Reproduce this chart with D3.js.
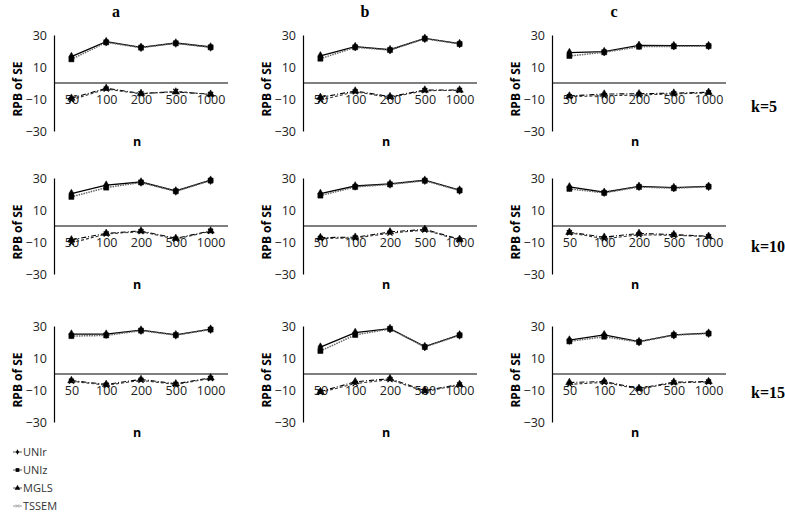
<!DOCTYPE html>
<html><head><meta charset="utf-8">
<script src="https://cdn.jsdelivr.net/npm/d3@7"></script>
<style>body{margin:0;background:#fff}</style>
</head><body><svg id="c" width="785" height="514"></svg>
<script>
const nLabels = ["50","100","200","500","1000"];
const colLabels = ["a","b","c"];
const kLabels = ["k=5","k=10","k=15"];
const yTicks = [30,10,-10,-30];
const seriesNames = ["UNIr","UNIz","MGLS","TSSEM"];
// panels in row order: k=5 (a,b,c), k=10 (a,b,c), k=15 (a,b,c)
const uniR = [
 [16.5,25.8,22.3,25,22.5],[16.9,22.7,20.8,27.9,24.6],[19,19.6,23.5,23.3,23.3],
 [20.3,25.5,27.5,21.9,28.6],[20.3,25,26.3,28.6,22.4],[24.4,21.1,24.8,24,24.8],
 [24.9,24.9,27.4,24.5,28],[16.8,25.9,28.4,17.1,24.4],[21.2,24.5,20.2,24.5,25.5]];
const uniZ = [
 [14.8,25.4,22.1,24.8,22.3],[15.2,22.3,20.6,27.7,24.4],[16.9,19.2,22.7,22.9,23.1],
 [18.2,24,27.2,21.7,28.4],[19,24.4,26,28.3,22.2],[23.2,20.7,24.4,23.6,24.6],
 [23.7,24.1,27.1,24.3,27.8],[14.4,24.4,28.2,16.9,24.2],[20.4,23.3,20,24.3,25.3]];
const mgls = [
 [-9.5,-3.3,-6.5,-5.6,-7],[-9,-5,-8.5,-4.4,-4.4],[-8.1,-6.9,-6.7,-6.3,-5.8],
 [-8.7,-4.6,-3.1,-7.7,-3.1],[-7.2,-7,-3.7,-2.1,-8.3],[-3.9,-7,-4.6,-5.4,-6.4],
 [-4.1,-6.5,-3.4,-6.1,-2.4],[-11,-4.9,-2.9,-10.4,-6.5],[-5.3,-4.7,-9,-5.1,-4.7]];
const tssem = [
 [-10.5,-3.8,-6.8,-5.2,-7.2],[-10.6,-5.5,-9,-4.8,-4.6],[-8.5,-8,-7.5,-6.8,-6.2],
 [-10.5,-5,-3.5,-8.2,-3.3],[-7.8,-7.5,-4.5,-2.5,-8.8],[-4.2,-8,-5.5,-5.8,-6.6],
 [-4.5,-7,-4,-6.5,-2.8],[-11.5,-6,-3.5,-11,-6.8],[-6.5,-5.2,-9.5,-5.5,-5]];

const svg = d3.select("#c");
const colX = [54, 303, 552];
const rowZero = [83, 226, 374];
const plotW = 174, half = 48;
const tickFont = "'Open Sans', sans-serif";

const styles = [
  {data: uniR, stroke:"#000", width:1.3, dash:null, marker:"diamond"},
  {data: uniZ, stroke:"#666", width:1.5, dash:"1.5,1", marker:"square"},
  {data: mgls, stroke:"#000", width:1.1, dash:"5,2,1,2", marker:"triangle"},
  {data: tssem, stroke:"#333", width:1.1, dash:"3,2", marker:"cross"}
];
const symType = {diamond:d3.symbolDiamond, square:d3.symbolSquare, triangle:d3.symbolTriangle, cross:d3.symbolX};
const symSize = {diamond:22, square:26, triangle:24, cross:18};

colLabels.forEach((t,i)=>{
  svg.append("text").attr("x", colX[i]+62).attr("y", 17).attr("text-anchor","middle")
    .attr("font-family","'Liberation Serif', serif").attr("font-weight","bold").attr("font-size",16).text(t);
});
const kBase = [112, 252, 398];
kLabels.forEach((t,r)=>{
  svg.append("text").attr("x", 751).attr("y", kBase[r])
    .attr("font-family","'Liberation Serif', serif").attr("font-weight","bold").attr("font-size",16).text(t);
});

for (let r=0;r<3;r++){
  for (let c=0;c<3;c++){
    const p = r*3+c;
    const x0 = colX[c], z = rowZero[r];
    const x = d3.scalePoint().domain(nLabels).range([x0, x0+plotW]).padding(0.5);
    const y = d3.scaleLinear().domain([-30,30]).range([z+half, z-half]);
    const g = svg.append("g");
    const ya = g.append("g").attr("transform",`translate(${x0},0)`)
      .call(d3.axisLeft(y).tickValues(yTicks).tickSize(0).tickPadding(7));
    ya.select(".domain").attr("stroke","#000").attr("stroke-width",1.2);
    ya.selectAll("text").attr("font-family",tickFont).attr("font-size",12.5).attr("fill","#222");
    const xa = g.append("g").attr("transform",`translate(0,${y(0)})`)
      .call(d3.axisBottom(x).tickSize(0).tickPadding(12));
    xa.select(".domain").attr("stroke","#000").attr("stroke-width",1.2).attr("d",`M${x0},0H${x0+plotW}`);
    xa.selectAll("text").attr("font-family",tickFont).attr("font-size",12.5).attr("fill","#222");
    g.append("text").attr("x", x0+plotW/2 - 4).attr("y", z+63).attr("text-anchor","middle")
      .attr("font-family",tickFont).attr("font-weight","bold").attr("font-size",12.5).text("n");
    g.append("text").attr("transform",`translate(${x0-32},${z+6}) rotate(-90)`).attr("text-anchor","middle")
      .attr("font-family",tickFont).attr("font-weight","bold").attr("font-size",12).text("RPB of SE");
    styles.forEach(s=>{
      const vals = s.data[p];
      const line = d3.line().x((d,i)=>x(nLabels[i])).y(d=>y(d));
      g.append("path").datum(vals).attr("d",line).attr("fill","none")
        .attr("stroke",s.stroke).attr("stroke-width",s.width).attr("stroke-dasharray",s.dash);
      g.selectAll(null).data(vals).enter().append("path")
        .attr("transform",(d,i)=>`translate(${x(nLabels[i])},${y(d)})`)
        .attr("d", d3.symbol().type(symType[s.marker]).size(symSize[s.marker]))
        .attr("fill", s.marker==="cross"?"none":"#000").attr("stroke","#000")
        .attr("stroke-width", s.marker==="cross"?1.2:0.5);
    });
  }
}

const legY = [452, 470, 488, 506];
styles.forEach((s,i)=>{
  const g = svg.append("g").attr("transform",`translate(0,${legY[i]})`);
  g.append("line").attr("x1",13).attr("x2",22).attr("y1",0).attr("y2",0)
    .attr("stroke", i===3?"#999":"#555").attr("stroke-width",1);
  if (i<3) g.append("path").attr("transform","translate(17.5,0)")
    .attr("d", d3.symbol().type(symType[s.marker]).size(i===0?8:14))
    .attr("fill","#000");
  else g.append("path").attr("transform","translate(17.5,0)")
    .attr("d", d3.symbol().type(d3.symbolX).size(8)).attr("stroke","#aaa").attr("fill","none");
  g.append("text").attr("x",23).attr("y",4).attr("font-family",tickFont).attr("font-size",11)
    .attr("fill","#333").text(seriesNames[i]);
});
</script></body></html>
